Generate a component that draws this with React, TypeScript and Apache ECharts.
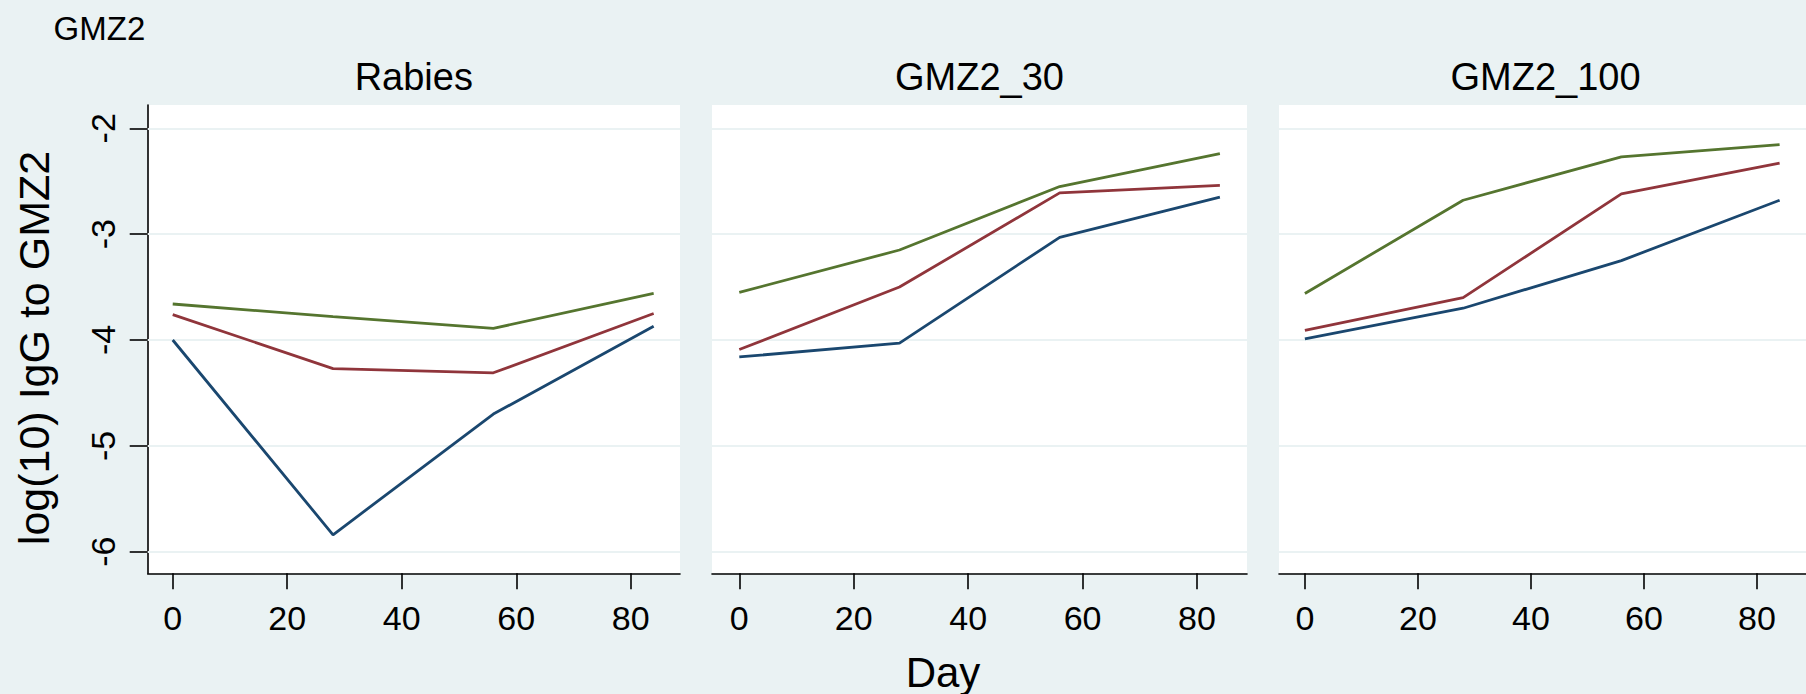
import React, { useEffect, useRef } from "react";
import * as echarts from "echarts";

// ---- data ----
const days = [0, 28, 56, 84];
const panelTitles = ["Rabies", "GMZ2_30", "GMZ2_100"];
const xTicks = [0, 20, 40, 60, 80];
const yTicks = [-6, -5, -4, -3, -2];

const rabiesBlue = [-4.0, -5.84, -4.7, -3.87];
const rabiesRed = [-3.76, -4.27, -4.31, -3.75];
const rabiesGreen = [-3.66, -3.78, -3.89, -3.56];

const gmz30Blue = [-4.16, -4.03, -3.03, -2.65];
const gmz30Red = [-4.09, -3.5, -2.61, -2.54];
const gmz30Green = [-3.55, -3.15, -2.55, -2.24];

const gmz100Blue = [-3.99, -3.7, -3.25, -2.68];
const gmz100Red = [-3.91, -3.6, -2.62, -2.33];
const gmz100Green = [-3.56, -2.68, -2.27, -2.155];

const panelSeries = [
  [rabiesBlue, rabiesRed, rabiesGreen],
  [gmz30Blue, gmz30Red, gmz30Green],
  [gmz100Blue, gmz100Red, gmz100Green],
];

// ---- styles / layout ----
const FONT = "Liberation Sans, Arial, Helvetica, sans-serif";
const BG = "#eaf2f3";
const lineColors = ["#1a476f", "#90353b", "#55752f"];
const grids = [
  { left: 147.7, width: 532.3, xmin: -4.37, xmax: 88.6 },
  { left: 712, width: 535, xmin: -4.77, xmax: 88.74 },
  { left: 1279, width: 533, xmin: -4.58, xmax: 88.67 },
];
const TOP = 105;
const HEIGHT = 468.3;
const YMIN = -6.204;
const YMAX = -1.78;

export default function App() {
  const ref = useRef<HTMLDivElement>(null);

  useEffect(() => {
    document.body.style.margin = "0";
    if (!ref.current) return;
    const chart = echarts.init(ref.current, undefined, { renderer: "svg" });

    const axisLineStyle = { color: "#000", width: 1.6 };

    const option: any = {
      animation: false,
      backgroundColor: BG,
      grid: grids.map((g) => ({
        left: g.left,
        top: TOP,
        width: g.width,
        height: HEIGHT,
        show: true,
        backgroundColor: "#ffffff",
        borderWidth: 0,
        containLabel: false,
      })),
      xAxis: grids.map((g, i) => ({
        gridIndex: i,
        type: "value",
        min: g.xmin,
        max: g.xmax,
        axisLine: { show: true, onZero: false, lineStyle: axisLineStyle },
        axisTick: {
          show: true,
          length: 16,
          customValues: xTicks,
          lineStyle: axisLineStyle,
        },
        axisLabel: {
          show: true,
          customValues: xTicks,
          fontSize: 34,
          fontFamily: FONT,
          color: "#000",
          margin: 28,
        },
        splitLine: { show: false },
      })),
      yAxis: grids.map((g, i) => ({
        gridIndex: i,
        type: "value",
        min: YMIN,
        max: YMAX,
        axisLine: { show: i === 0, onZero: false, lineStyle: axisLineStyle },
        axisTick: {
          show: i === 0,
          length: 18,
          customValues: yTicks,
          lineStyle: axisLineStyle,
        },
        axisLabel: {
          show: i === 0,
          customValues: yTicks,
          rotate: 90,
          fontSize: 34,
          fontFamily: FONT,
          color: "#000",
          margin: 28,
        },
        splitLine: { show: false },
      })),
      series: [] as any[],
      graphic: [] as any[],
    };

    grids.forEach((g, i) => {
      option.series.push({
        type: "line",
        xAxisIndex: i,
        yAxisIndex: i,
        data: [],
        z: 1,
        silent: true,
        markLine: {
          silent: true,
          z: 1,
          symbol: ["none", "none"],
          label: { show: false },
          lineStyle: { color: BG, width: 2.2, type: "solid" },
          data: yTicks.map((v) => ({ yAxis: v })),
        },
      });
      panelSeries[i].forEach((vals, k) => {
        option.series.push({
          type: "line",
          name: `${panelTitles[i]} ${k + 1}`,
          xAxisIndex: i,
          yAxisIndex: i,
          z: 3,
          showSymbol: false,
          symbol: "none",
          lineStyle: { color: lineColors[k], width: 2.8 },
          itemStyle: { color: lineColors[k] },
          data: days.map((d, j) => [d, vals[j]]),
        });
      });
    });

    const titleCenters = [413.8, 979.5, 1545.5];
    panelTitles.forEach((t, i) => {
      option.graphic.push({
        type: "text",
        x: titleCenters[i],
        y: 77,
        style: {
          text: t,
          fontSize: 38,
          fontFamily: FONT,
          fill: "#000",
          textAlign: "center",
          textVerticalAlign: "middle",
        },
      });
    });
    option.graphic.push({
      type: "text",
      x: 53.6,
      y: 28,
      style: {
        text: "GMZ2",
        fontSize: 33,
        fontFamily: FONT,
        fill: "#000",
        textAlign: "left",
        textVerticalAlign: "middle",
      },
    });
    option.graphic.push({
      type: "text",
      x: 34,
      y: 348,
      rotation: Math.PI / 2,
      style: {
        text: "log(10) IgG to GMZ2",
        fontSize: 43,
        fontFamily: FONT,
        fill: "#000",
        textAlign: "center",
        textVerticalAlign: "middle",
      },
    });
    option.graphic.push({
      type: "text",
      x: 943,
      y: 672,
      style: {
        text: "Day",
        fontSize: 42,
        fontFamily: FONT,
        fill: "#000",
        textAlign: "center",
        textVerticalAlign: "middle",
      },
    });

    chart.setOption(option);
    return () => chart.dispose();
  }, []);

  return (
    <div
      ref={ref}
      style={{ position: "fixed", left: 0, top: 0, width: 1806, height: 694 }}
    />
  );
}
